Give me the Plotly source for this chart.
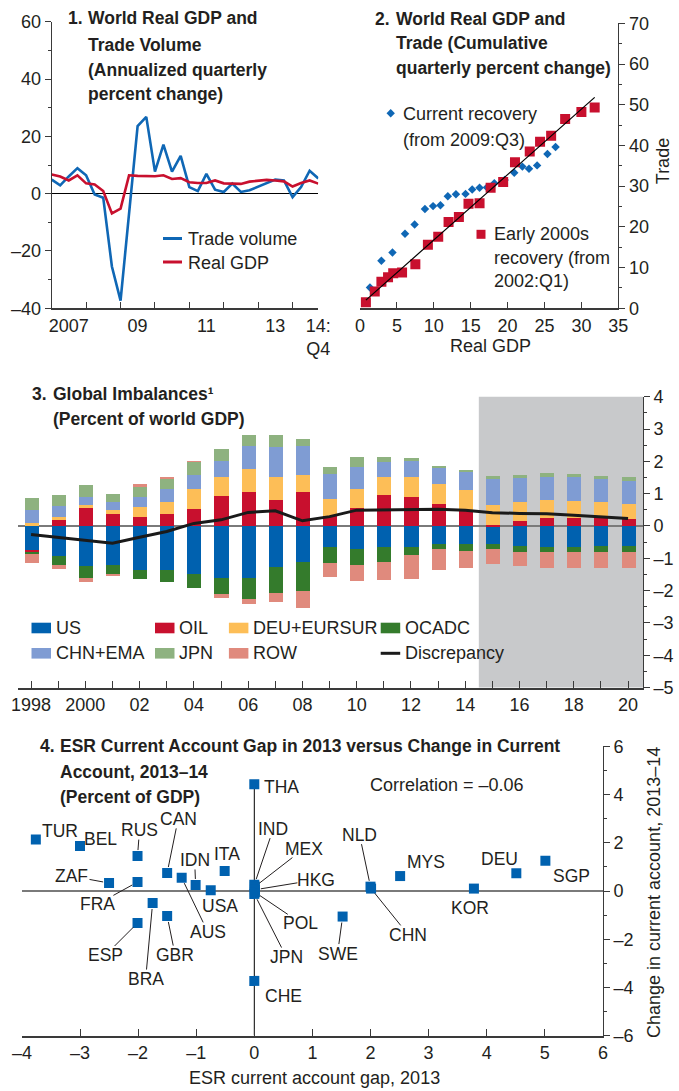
import math
import plotly.graph_objects as go

W, H = 679, 1091


def PX(p):
    return p / W


def PY(p):
    return 1 - p / H


FONT = "Liberation Sans, Arial, Helvetica, sans-serif"
INK = "#231F20"
AXC = "#3A3A3A"
FS = 18        # regular text / tick labels
FSB = 17.5     # bold titles
FSL = 17.5     # country labels

# ---------------- Panel 1 data ----------------
quarter_dates = [
    "2007-01-01", "2007-04-01", "2007-07-01", "2007-10-01",
    "2008-01-01", "2008-04-01", "2008-07-01", "2008-10-01",
    "2009-01-01", "2009-04-01", "2009-07-01", "2009-10-01",
    "2010-01-01", "2010-04-01", "2010-07-01", "2010-10-01",
    "2011-01-01", "2011-04-01", "2011-07-01", "2011-10-01",
    "2012-01-01", "2012-04-01", "2012-07-01", "2012-10-01",
    "2013-01-01", "2013-04-01", "2013-07-01", "2013-10-01",
    "2014-01-01", "2014-04-01", "2014-07-01", "2014-10-01",
]
trade_volume = [4.9, 2.9, 6.0, 8.9, 6.4, -0.3, -1.4, -25.4, -37.3, -7.0, 23.6, 26.8,
                7.7, 17.1, 7.7, 13.2, 2.3, 0.9, 6.9, 1.4, 0.6, 3.5, 0.6, 1.2,
                2.5, 3.5, 4.9, 4.6, -1.2, 2.3, 8.0, 5.3]
real_gdp = [6.7, 6.0, 4.6, 6.4, 3.6, 3.2, 0.9, -6.9, -5.2, 6.4, 6.2, 6.1,
            6.1, 6.4, 5.1, 5.4, 4.0, 3.7, 3.7, 4.6, 3.6, 3.5, 3.4, 4.2,
            4.6, 4.8, 4.6, 4.3, 2.5, 3.7, 4.6, 3.5]
p1_label_dates = ["2007-07-01", "2009-07-01", "2011-07-01", "2013-07-01", "2014-10-01"]
p1_label_text = ["2007", "09", "11", "13", "14:<br>Q4"]
p1_year_starts = ["2008-01-01", "2009-01-01", "2010-01-01", "2011-01-01",
                  "2012-01-01", "2013-01-01", "2014-01-01"]

# ---------------- Panel 2 data ----------------
cur_gdp = [1.35, 2.9, 4.4, 6.1, 7.4, 8.8, 9.9, 10.9, 11.9, 13.0, 14.3, 15.2,
           16.2, 17.2, 18.2, 19.6, 20.9, 22.0, 22.9, 24.0, 25.4, 26.5]
cur_trade = [5.1, 11.7, 13.7, 18.3, 20.6, 24.4, 25.1, 25.3, 27.5, 28.0, 28.1, 29.2,
             29.6, 29.7, 30.7, 31.5, 33.3, 34.8, 34.3, 35.1, 37.9, 39.6]
early_gdp = [0.8, 2.0, 2.9, 3.8, 4.5, 5.7, 7.5, 9.2, 10.6, 12.0, 13.4, 14.7,
             16.2, 17.7, 19.4, 21.0, 23.0, 24.4, 25.9, 27.8, 30.0, 31.8]
early_trade = [1.5, 4.1, 6.5, 7.6, 8.6, 8.8, 10.8, 15.6, 17.6, 21.2, 22.4, 25.7,
               25.8, 29.6, 31.0, 35.9, 38.5, 40.9, 42.4, 46.5, 48.2, 49.3]
trend_gdp = [0.8, 31.8]
trend_trade = [2.0, 51.8]

# ---------------- Panel 3 data ----------------
years = list(range(1998, 2021))
us = [-0.72, -0.92, -1.23, -1.20, -1.35, -1.35, -1.47, -1.60, -1.60, -1.27, -1.11, -0.65,
      -0.71, -0.65, -0.65, -0.55, -0.56, -0.56, -0.60, -0.65, -0.65, -0.62, -0.62]
oil = [-0.08, 0.22, 0.59, 0.37, 0.28, 0.37, 0.53, 0.93, 1.06, 0.81, 1.06, 0.31,
       0.56, 0.96, 0.90, 0.68, 0.49, 0.03, 0.15, 0.25, 0.25, 0.25, 0.22]
deu_eursur = [0.09, 0.06, 0.06, 0.12, 0.31, 0.37, 0.62, 0.59, 0.70, 0.70, 0.52, 0.53,
              0.59, 0.56, 0.62, 0.62, 0.62, 0.62, 0.59, 0.56, 0.53, 0.49, 0.46]
ocadc = [-0.06, -0.29, -0.37, -0.28, -0.28, -0.38, -0.44, -0.49, -0.66, -0.79, -0.90, -0.49,
         -0.49, -0.46, -0.25, -0.16, -0.19, -0.15, -0.19, -0.15, -0.15, -0.19, -0.19]
chn_ema = [0.40, 0.34, 0.25, 0.26, 0.31, 0.40, 0.43, 0.49, 0.72, 0.93, 0.91, 0.78,
           0.68, 0.47, 0.49, 0.51, 0.58, 0.80, 0.74, 0.71, 0.74, 0.71, 0.71]
jpn = [0.37, 0.34, 0.37, 0.24, 0.31, 0.35, 0.41, 0.37, 0.34, 0.38, 0.21, 0.21,
       0.31, 0.14, 0.09, 0.05, 0.04, 0.12, 0.12, 0.12, 0.09, 0.12, 0.12]
row = [-0.28, -0.12, -0.12, -0.06, 0.09, 0.05, 0.03, -0.12, -0.14, -0.28, -0.52, -0.43,
       -0.49, -0.56, -0.74, -0.65, -0.53, -0.46, -0.45, -0.49, -0.49, -0.49, -0.49]
discrepancy = [-0.26, -0.35, -0.44, -0.53, -0.35, -0.17, 0.08, 0.19, 0.42, 0.47, 0.16, 0.29,
               0.49, 0.50, 0.51, 0.52, 0.49, 0.41, 0.39, 0.38, 0.33, 0.29, 0.23]
p3_tick_years = list(range(1998, 2021, 2))
p3_tick_text = ["1998", "2000", "02", "04", "06", "08", "10", "12", "14", "16", "18", "20"]
projection_start = 2014.5

# ---------------- Panel 4 data ----------------
countries = ["TUR", "BEL", "RUS", "CAN", "ZAF", "FRA", "AUS", "IDN", "USA", "ITA", "BRA",
             "GBR", "ESP", "THA", "CHE", "IND", "MEX", "HKG", "POL", "JPN", "NLD", "CHN",
             "MYS", "KOR", "DEU", "SGP", "SWE"]
esr_gap = [-3.76, -3.0, -2.01, -1.50, -2.50, -2.01, -1.25, -1.01, -0.75, -0.51, -1.75,
           -1.50, -2.01, 0.0, 0.0, 0.0, 0.01, 0.01, 0.01, 0.0, 2.0, 2.01,
           2.51, 3.78, 4.51, 5.01, 1.52]
ca_change = [2.14, 1.87, 1.45, 0.75, 0.33, 0.37, 0.55, 0.25, 0.03, 0.83, -0.50,
             -1.04, -1.33, 4.43, -3.73, 0.26, 0.18, 0.05, -0.05, -0.12, 0.18, 0.10,
             0.62, 0.10, 0.74, 1.26, -1.06]
correlation_text = "Correlation = –0.06"

# label placement (pixel offsets from marker; leader line flag)
label_pos = {
    "TUR": (24, -8, False), "BEL": (20, -7, False), "RUS": (2, -26, True),
    "CAN": (11, -54, True), "ZAF": (-38, -7, True), "FRA": (-40, 22, True),
    "AUS": (26, 54, True), "IDN": (-1, -25, True), "USA": (9, 16, False),
    "ITA": (2, -17, False), "BRA": (-7, 76, True), "GBR": (8, 39, True),
    "ESP": (-32, 32, True), "THA": (27, 3, False), "CHE": (29, 15, False),
    "IND": (19, -56, True), "MEX": (49, -38, True), "HKG": (61, -10, True),
    "POL": (46, 31, True), "JPN": (32, 63, True), "NLD": (-11, -52, True),
    "CHN": (37, 46, True), "MYS": (26, -14, False), "KOR": (-4, 19, False),
    "DEU": (-17, -14, False), "SGP": (26, 15, False), "SWE": (-5, 37, True),
}

C_US = "#0061AF"
C_OIL = "#C8102E"
C_DEU = "#FDBE57"
C_OCADC = "#347B2C"
C_CHN = "#7F9CD3"
C_JPN = "#8EB280"
C_ROW = "#E08A7D"
BLUE1 = "#0F67B5"
RED1 = "#C8102E"

fig = go.Figure()

# Panel 1
fig.add_trace(go.Scatter(x=quarter_dates, y=trade_volume, mode="lines", name="Trade volume",
                         line=dict(color=BLUE1, width=2.6), xaxis="x", yaxis="y", showlegend=False))
fig.add_trace(go.Scatter(x=quarter_dates, y=real_gdp, mode="lines", name="Real GDP",
                         line=dict(color=RED1, width=2.6), xaxis="x", yaxis="y", showlegend=False))

# Panel 2
fig.add_trace(go.Scatter(x=cur_gdp, y=cur_trade, mode="markers", name="Current recovery",
                         marker=dict(symbol="diamond", size=6.5, color=BLUE1),
                         xaxis="x2", yaxis="y2", showlegend=False))
fig.add_trace(go.Scatter(x=early_gdp, y=early_trade, mode="markers", name="Early 2000s recovery",
                         marker=dict(symbol="square", size=10, color=RED1),
                         xaxis="x2", yaxis="y2", showlegend=False))
fig.add_trace(go.Scatter(x=trend_gdp, y=trend_trade, mode="lines", name="Trend",
                         line=dict(color="black", width=1.2), xaxis="x2", yaxis="y2", showlegend=False))

# Panel 3
bar_series = [("US", us, C_US), ("OIL", oil, C_OIL), ("DEU+EURSUR", deu_eursur, C_DEU),
              ("OCADC", ocadc, C_OCADC), ("CHN+EMA", chn_ema, C_CHN), ("JPN", jpn, C_JPN),
              ("ROW", row, C_ROW)]
for nm, vals, col in bar_series:
    fig.add_trace(go.Bar(x=years, y=vals, name=nm, marker=dict(color=col, line=dict(width=0)),
                         width=0.52, xaxis="x3", yaxis="y3", showlegend=False))
fig.add_trace(go.Scatter(x=years, y=discrepancy, mode="lines", name="Discrepancy",
                         line=dict(color="#1A1A1A", width=3), xaxis="x3", yaxis="y3", showlegend=False))

# Panel 4
fig.add_trace(go.Scatter(x=esr_gap, y=ca_change, mode="markers", text=countries,
                         marker=dict(symbol="square", size=10, color=C_US),
                         xaxis="x4", yaxis="y4", showlegend=False))

tickfont = dict(family=FONT, size=FS, color=INK)
base = dict(showgrid=False, zeroline=False, tickfont=tickfont, linecolor=AXC, tickcolor=AXC,
            tickwidth=1.2, fixedrange=True)


def neg(v):
    return ("–" + str(abs(v))) if v < 0 else str(v)


P4_X = (21.9, 602.9)
P4_Y = (1035.6, 746.4)
P4_XR = [-4, 6]
P4_YR = [-6, 6]

layout_axes = dict(
    xaxis=dict(base, domain=[PX(51.7), PX(318.3)], anchor="y", type="date",
               range=["2007-01-01", "2014-10-01"], tickmode="array",
               tickvals=p1_label_dates, ticktext=p1_label_text, ticks="",
               showline=True, linewidth=1.5,
               minor=dict(tickmode="array", tickvals=p1_year_starts, ticks="inside",
                          ticklen=7, tickcolor=AXC, tickwidth=1.2)),
    yaxis=dict(base, domain=[PY(308.3), PY(21.7)], anchor="x", range=[-40, 60],
               tickmode="array", tickvals=[-40, -20, 0, 20, 40, 60],
               ticktext=[neg(v) for v in [-40, -20, 0, 20, 40, 60]],
               ticks="outside", ticklen=6, zeroline=True, zerolinecolor="black", zerolinewidth=1,
               minor=dict(tickmode="array", tickvals=[-30, -10, 10, 30, 50], ticks="outside",
                          ticklen=3, tickcolor=AXC)),
    yaxis5=dict(base, overlaying="y", anchor="x", side="right", range=[-40, 60],
                tickmode="array", tickvals=[-40, -20, 0, 20, 40, 60], showticklabels=False,
                ticks="inside", ticklen=6,
                minor=dict(tickmode="array", tickvals=[-30, -10, 10, 30, 50], ticks="inside",
                           ticklen=3, tickcolor=AXC)),
    xaxis2=dict(base, domain=[PX(360), PX(618.3)], anchor="y2", range=[0, 35],
                tickmode="array", tickvals=list(range(0, 36, 5)), ticks="inside", ticklen=7,
                showline=True, linewidth=1.5),
    yaxis2=dict(base, domain=[PY(308.3), PY(23.3)], anchor="x2", side="right", range=[0, 70],
                tickmode="array", tickvals=list(range(0, 71, 10)), ticks="outside", ticklen=6,
                minor=dict(tickmode="array", tickvals=list(range(5, 70, 10)), ticks="outside",
                           ticklen=3, tickcolor=AXC)),
    yaxis6=dict(base, overlaying="y2", anchor="x2", side="left", range=[0, 70],
                tickmode="array", tickvals=list(range(0, 71, 10)), showticklabels=False,
                ticks="inside", ticklen=6,
                minor=dict(tickmode="array", tickvals=list(range(5, 70, 10)), ticks="inside",
                           ticklen=3, tickcolor=AXC)),
    xaxis3=dict(base, domain=[PX(17.5), PX(643)], anchor="y3", range=[1997.5, 2020.55],
                tickmode="array", tickvals=p3_tick_years, ticktext=p3_tick_text,
                ticks="inside", ticklen=7, showline=True, linewidth=1.5,
                minor=dict(tickmode="array", tickvals=list(range(1999, 2021, 2)), ticks="inside",
                           ticklen=7, tickcolor=AXC)),
    yaxis3=dict(base, domain=[PY(687.6), PY(396.7)], anchor="x3", side="right", range=[-5, 4],
                tickmode="array", tickvals=list(range(-5, 5)),
                ticktext=[neg(v) for v in range(-5, 5)], ticks="outside", ticklen=6,
                zeroline=True, zerolinecolor="#7A7A7A", zerolinewidth=1.5,
                minor=dict(tickmode="array", tickvals=[v + 0.5 for v in range(-5, 4)],
                           ticks="outside", ticklen=3, tickcolor=AXC)),
    yaxis7=dict(base, overlaying="y3", anchor="x3", side="left", range=[-5, 4],
                tickmode="array", tickvals=list(range(-5, 5)), showticklabels=False,
                ticks="inside", ticklen=6,
                minor=dict(tickmode="array", tickvals=[v + 0.5 for v in range(-5, 4)],
                           ticks="inside", ticklen=3, tickcolor=AXC)),
    xaxis4=dict(base, domain=[PX(P4_X[0]), PX(P4_X[1])], anchor="y4", range=P4_XR,
                tickmode="array", tickvals=list(range(-4, 7)),
                ticktext=[neg(v) for v in range(-4, 7)], ticks="inside", ticklen=7,
                showline=True, linewidth=1.5),
    yaxis4=dict(base, domain=[PY(P4_Y[0]), PY(P4_Y[1])], anchor="x4", side="right", range=P4_YR,
                tickmode="array", tickvals=list(range(-6, 7, 2)),
                ticktext=[neg(v) for v in range(-6, 7, 2)], ticks="outside", ticklen=6,
                zeroline=True, zerolinecolor="#7A7A7A", zerolinewidth=1.5,
                minor=dict(tickmode="array", tickvals=list(range(-5, 6, 2)), ticks="outside",
                           ticklen=3, tickcolor=AXC)),
    yaxis8=dict(base, overlaying="y4", anchor="x4", side="left", range=P4_YR,
                tickmode="array", tickvals=list(range(-6, 7, 2)), showticklabels=False,
                ticks="inside", ticklen=6,
                minor=dict(tickmode="array", tickvals=list(range(-5, 6, 2)), ticks="inside",
                           ticklen=3, tickcolor=AXC)),
)

shapes = []
annotations = []


def text(s, x, y, size=FS, xanchor="left", angle=0, bold=False):
    annotations.append(dict(
        text=("<b>%s</b>" % s) if bold else s, x=PX(x), y=PY(y), xref="paper", yref="paper",
        xanchor=xanchor, yanchor="middle", showarrow=False, textangle=angle,
        font=dict(family=FONT, size=size, color=INK), borderpad=0))


# titles (number + hanging indent text)
titles = [
    ("1.", 66.7, 18.3), ("World Real GDP and", 87.3, 18.3), ("Trade Volume", 87.3, 45),
    ("(Annualized quarterly", 87.3, 70), ("percent change)", 87.3, 94),
    ("2.", 374, 18.7), ("World Real GDP and", 395, 18.7), ("Trade (Cumulative", 395, 43.3),
    ("quarterly percent change)", 395, 68.3),
    ("3.", 30.6, 394), ("Global Imbalances¹", 52.4, 394), ("(Percent of world GDP)", 52.4, 419),
    ("4.", 39, 746.3), ("ESR Current Account Gap in 2013 versus Change in Current", 58.5, 746.3),
    ("Account, 2013–14", 59, 771.5), ("(Percent of GDP)", 59, 797),
]
for s, x, y in titles:
    text(s, x, y, size=FSB, bold=True)

# Panel 1 legend
for (nm, col, y) in [("Trade volume", BLUE1, 239), ("Real GDP", RED1, 262.5)]:
    shapes.append(dict(type="line", xref="paper", yref="paper", x0=PX(163), x1=PX(182),
                       y0=PY(y - 0.5), y1=PY(y - 0.5), line=dict(color=col, width=3)))
    text(nm, 186.7, y)

# Panel 2 legend
cx, cy, r = 390.7, 113.3, 4.2
shapes.append(dict(type="path", xref="paper", yref="paper", fillcolor=BLUE1, line=dict(width=0),
                   path="M %f,%f L %f,%f L %f,%f L %f,%f Z" % (
                       PX(cx), PY(cy - r), PX(cx + r), PY(cy), PX(cx), PY(cy + r), PX(cx - r), PY(cy))))
text("Current recovery", 401.7, 113.7)
text("(from 2009:Q3)", 401.7, 139.7)
shapes.append(dict(type="rect", xref="paper", yref="paper", x0=PX(476.5), x1=PX(485.5),
                   y0=PY(238.8), y1=PY(229.8), fillcolor=RED1, line=dict(width=0)))
text("Early 2000s", 492.7, 233.7)
text("recovery (from", 492.7, 258)
text("2002:Q1)", 492.7, 281)
text("Real GDP", 490, 346, xanchor="center")
text("Trade", 662.5, 161.7, xanchor="center", angle=-90)

# Panel 3 shading + legend
shapes.append(dict(type="rect", xref="x3", yref="y3 domain", x0=projection_start, x1=2020.55,
                   y0=0, y1=1, fillcolor="#C8C9CB", line=dict(width=0), layer="below"))
legend3 = [("US", C_US, 31.5, 628), ("OIL", C_OIL, 155, 628), ("DEU+EURSUR", C_DEU, 228.9, 628),
           ("OCADC", C_OCADC, 380.7, 628), ("CHN+EMA", C_CHN, 31.5, 653.3), ("JPN", C_JPN, 155, 653.3),
           ("ROW", C_ROW, 228.9, 653.3)]
for nm, col, x, y in legend3:
    shapes.append(dict(type="rect", xref="paper", yref="paper", x0=PX(x), x1=PX(x + 19.5),
                       y0=PY(y + 5.3), y1=PY(y - 5.3), fillcolor=col, line=dict(width=0)))
    text(nm, x + 23.3, y)
shapes.append(dict(type="line", xref="paper", yref="paper", x0=PX(380.7), x1=PX(400.2),
                   y0=PY(653.3), y1=PY(653.3), line=dict(color="#1A1A1A", width=3)))
text("Discrepancy", 404, 653.3)

# Panel 4 vertical line, labels with leader lines
shapes.append(dict(type="line", xref="x4", yref="y4", x0=0, x1=0, y0=-6, y1=max(ca_change),
                   line=dict(color="black", width=1), layer="below"))
sx = (P4_X[1] - P4_X[0]) / (P4_XR[1] - P4_XR[0])   # pixels per x unit
sy = (P4_Y[0] - P4_Y[1]) / (P4_YR[1] - P4_YR[0])   # pixels per y unit
HW, HH = 17.0, 8.0   # approximate half-size of a label box
for c, gx, gy in zip(countries, esr_gap, ca_change):
    dx, dy, leader = label_pos[c]
    annotations.append(dict(text=c, x=gx, y=gy, xref="x4", yref="y4", showarrow=False,
                            xshift=dx, yshift=-dy, xanchor="center", yanchor="middle",
                            borderpad=0, font=dict(family=FONT, size=FSL, color=INK)))
    if leader:
        L = math.hypot(dx, dy)
        ux, uy = dx / L, dy / L
        s0 = 6.0
        t = min(HW / abs(dx) if dx else 1e9, HH / abs(dy) if dy else 1e9)
        e = L * (1 - t) - 1.5
        shapes.append(dict(type="line", xref="x4", yref="y4",
                           x0=gx + ux * s0 / sx, y0=gy - uy * s0 / sy,
                           x1=gx + ux * e / sx, y1=gy - uy * e / sy,
                           line=dict(color=INK, width=1)))
text(correlation_text, 447, 785, xanchor="center")
text("ESR current account gap, 2013", 314, 1078, xanchor="center")
text("Change in current account, 2013–14", 654, 893, xanchor="center", angle=-90)

fig.update_layout(
    width=W, height=H, margin=dict(l=0, r=0, t=0, b=0, autoexpand=False),
    paper_bgcolor="white", plot_bgcolor="rgba(0,0,0,0)", barmode="relative", bargap=0,
    showlegend=False, font=dict(family=FONT, size=FS, color=INK),
    shapes=shapes, annotations=annotations, **layout_axes)

fig.write_html("out.html", config={"displayModeBar": False},
               post_script="document.body.style.margin='0px';")
